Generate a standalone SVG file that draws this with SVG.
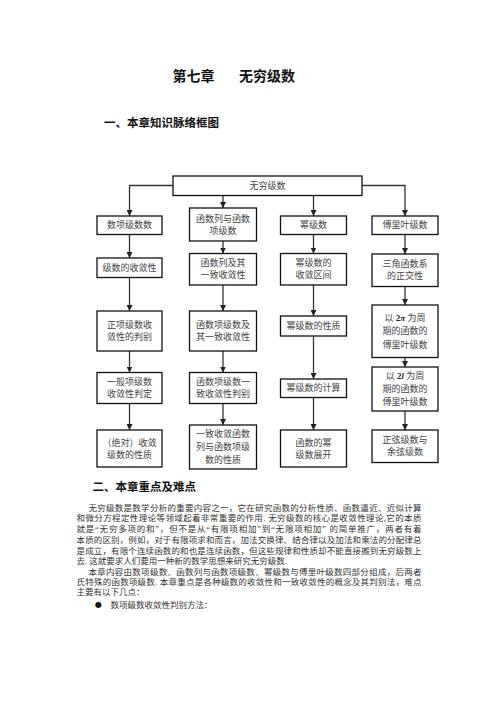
<svg xmlns="http://www.w3.org/2000/svg" width="496" height="702" viewBox="0 0 496 702">
<defs>
<marker id="ah" markerUnits="userSpaceOnUse" markerWidth="6" markerHeight="6" viewBox="0 0 6 6" refX="6" refY="3" orient="auto">
<path d="M0,0 L6,3 L0,6 z" fill="#222"/>
</marker>
<style>
.h{font-family:"Noto Sans CJK SC","Noto Sans",sans-serif;font-weight:bold;fill:#111}
.box rect{fill:#fff;stroke:#111;stroke-width:1.3}
.box text{font-family:"Liberation Serif","Noto Sans CJK SC",serif;font-size:9px;fill:#444;text-anchor:middle;dominant-baseline:central}
.m{font-family:"Liberation Serif",serif;font-weight:bold;fill:#222}
.mi{font-family:"Liberation Serif",serif;font-style:italic;font-weight:bold;fill:#222}
.c path{fill:none;stroke:#333;stroke-width:1.3;marker-end:url(#ah)}
.p{font-family:"Liberation Serif","Noto Sans CJK SC",serif;font-size:8.5px;fill:#333;dominant-baseline:central}
</style>
</defs>
<rect width="496" height="702" fill="#fff"/>
<text class="h" x="172.5" y="80.5" font-size="14">第七章</text>
<text class="h" x="239" y="80.5" font-size="14">无穷级数</text>
<text class="h" x="104" y="127" font-size="11.5">一、本章知识脉络框图</text>

<g class="c" id="connectors">
<path d="M173,185.5 H129.5 V216"/>
<path d="M362,185.5 H405 V216"/>
<path d="M223,195.5 V208"/>
<path d="M313.5,195.5 V216"/>
<path d="M129.5,234.5 V258"/>
<path d="M129.5,277.5 V311"/>
<path d="M129.5,351 V372.5"/>
<path d="M129.5,403.5 V430"/>
<path d="M223,241 V253.5"/>
<path d="M223,285 V311"/>
<path d="M223,351 V372.5"/>
<path d="M223,403.5 V425"/>
<path d="M313.5,234.5 V253.5"/>
<path d="M313.5,285 V316"/>
<path d="M313.5,336 V379"/>
<path d="M313.5,397.5 V430"/>
<path d="M405,234.5 V254"/>
<path d="M405,286.5 V305"/>
<path d="M405,357.5 V367"/>
<path d="M405,411 V430"/>
</g>

<g class="box" id="n-top"><rect x="173" y="176" width="189" height="19.5"/><text x="267.5" y="185.8">无穷级数</text></g>

<g class="box" id="n-c1r1"><rect x="97" y="216" width="65" height="18.5"/><text x="129.5" y="225.3">数项级数数</text></g>
<g class="box" id="n-c1r2"><rect x="97" y="258" width="65" height="19.5"/><text x="129.5" y="267.8">级数的收敛性</text></g>
<g class="box" id="n-c1r3"><rect x="97" y="311" width="65" height="40"/><text x="129.5" y="325">正项级数收</text><text x="129.5" y="337">敛性的判别</text></g>
<g class="box" id="n-c1r4"><rect x="97" y="372.5" width="65" height="31"/><text x="129.5" y="382">一般项级数</text><text x="129.5" y="394">收敛性判定</text></g>
<g class="box" id="n-c1r5"><rect x="97" y="430" width="65" height="37"/><text x="129.5" y="442.5">（绝对）收敛</text><text x="129.5" y="454.5">级数的性质</text></g>

<g class="box" id="n-c2r1"><rect x="189.5" y="208" width="67" height="33"/><text x="223" y="218.5">函数列与函数</text><text x="223" y="230.5">项级数</text></g>
<g class="box" id="n-c2r2"><rect x="189.5" y="253.5" width="67" height="31.5"/><text x="223" y="263.3">函数列及其</text><text x="223" y="275.3">一致收敛性</text></g>
<g class="box" id="n-c2r3"><rect x="189.5" y="311" width="67" height="40"/><text x="223" y="325">函数项级数及</text><text x="223" y="337">其一致收敛性</text></g>
<g class="box" id="n-c2r4"><rect x="189.5" y="372.5" width="67" height="31"/><text x="223" y="382">函数项级数一</text><text x="223" y="394">致收敛性判别</text></g>
<g class="box" id="n-c2r5"><rect x="189.5" y="425" width="67" height="44"/><text x="223" y="434">一致收敛函数</text><text x="223" y="447">列与函数项级</text><text x="223" y="460">数的性质</text></g>

<g class="box" id="n-c3r1"><rect x="280.5" y="216" width="66" height="18.5"/><text x="313.5" y="225.3">幂级数</text></g>
<g class="box" id="n-c3r2"><rect x="280.5" y="253.5" width="66" height="31.5"/><text x="313.5" y="263.3">幂级数的</text><text x="313.5" y="275.3">收敛区间</text></g>
<g class="box" id="n-c3r3"><rect x="280.5" y="316" width="66" height="20"/><text x="313.5" y="326">幂级数的性质</text></g>
<g class="box" id="n-c3r4"><rect x="280.5" y="379" width="66" height="18.5"/><text x="313.5" y="388.3">幂级数的计算</text></g>
<g class="box" id="n-c3r5"><rect x="280.5" y="430" width="66" height="37"/><text x="313.5" y="442.5">函数的幂</text><text x="313.5" y="454.5">级数展开</text></g>

<g class="box" id="n-c4r1"><rect x="372" y="216" width="66" height="18.5"/><text x="405" y="225.3">傅里叶级数</text></g>
<g class="box" id="n-c4r2"><rect x="372" y="254" width="66" height="32.5"/><text x="405" y="264.3">三角函数系</text><text x="405" y="276.3">的正交性</text></g>
<g class="box" id="n-c4r3"><rect x="372" y="305" width="66" height="52.5"/><text x="405" y="318">以 <tspan class="m">2</tspan><tspan class="mi">π</tspan> 为周</text><text x="405" y="331.3">期的函数的</text><text x="405" y="344.5">傅里叶级数</text></g>
<g class="box" id="n-c4r4"><rect x="372" y="367" width="66" height="44"/><text x="405" y="376">以 <tspan class="m">2</tspan><tspan class="mi">l</tspan> 为周</text><text x="405" y="389">期的函数的</text><text x="405" y="402">傅里叶级数</text></g>
<g class="box" id="n-c4r5"><rect x="372" y="430" width="66" height="32.5"/><text x="405" y="440.3">正弦级数与</text><text x="405" y="452.3">余弦级数</text></g>

<text class="h" x="92.5" y="491" font-size="11.5">二、本章重点及难点</text>
<text class="p" x="88.5" y="507.5" textLength="333" lengthAdjust="spacing">无穷级数是数学分析的重要内容之一，它在研究函数的分析性质、函数逼近、近似计算</text>
<text class="p" x="76.5" y="518.2" textLength="345" lengthAdjust="spacing">和微分方程定性理论等领域起着非常重要的作用. 无穷级数的核心是收敛性理论,它的本质</text>
<text class="p" x="76.5" y="529.2" textLength="345" lengthAdjust="spacing">就是“无穷多项的和”，但不是从“有限项相加”到“无限项相加”  的简单推广，两者有着</text>
<text class="p" x="76.5" y="540.2" textLength="345" lengthAdjust="spacing">本质的区别，例如，对于有限项求和而言，加法交换律、结合律以及加法和乘法的分配律总</text>
<text class="p" x="76.5" y="550.8" textLength="345" lengthAdjust="spacing">是成立，有限个连续函数的和也是连续函数，但这些规律和性质却不能直接搬到无穷级数上</text>
<text class="p" x="76.5" y="561.4">去. 这就要求人们要用一种新的数学思想来研究无穷级数.</text>
<text class="p" x="88.5" y="571.8" textLength="333" lengthAdjust="spacing">本章内容由数项级数、函数列与函数项级数、幂级数与傅里叶级数四部分组成，后两者</text>
<text class="p" x="76.5" y="582" textLength="345" lengthAdjust="spacing">氏特殊的函数项级数. 本章重点是各种级数的收敛性和一致收敛性的概念及其判别法，难点</text>
<text class="p" x="76.5" y="592.4">主要有以下几点：</text>
<text class="p" x="95" y="604.5" style="font-family:'DejaVu Sans',sans-serif;font-size:8px;fill:#111">●</text>
<text class="p" x="110.5" y="604.5">数项级数收敛性判别方法：</text>
</svg>
